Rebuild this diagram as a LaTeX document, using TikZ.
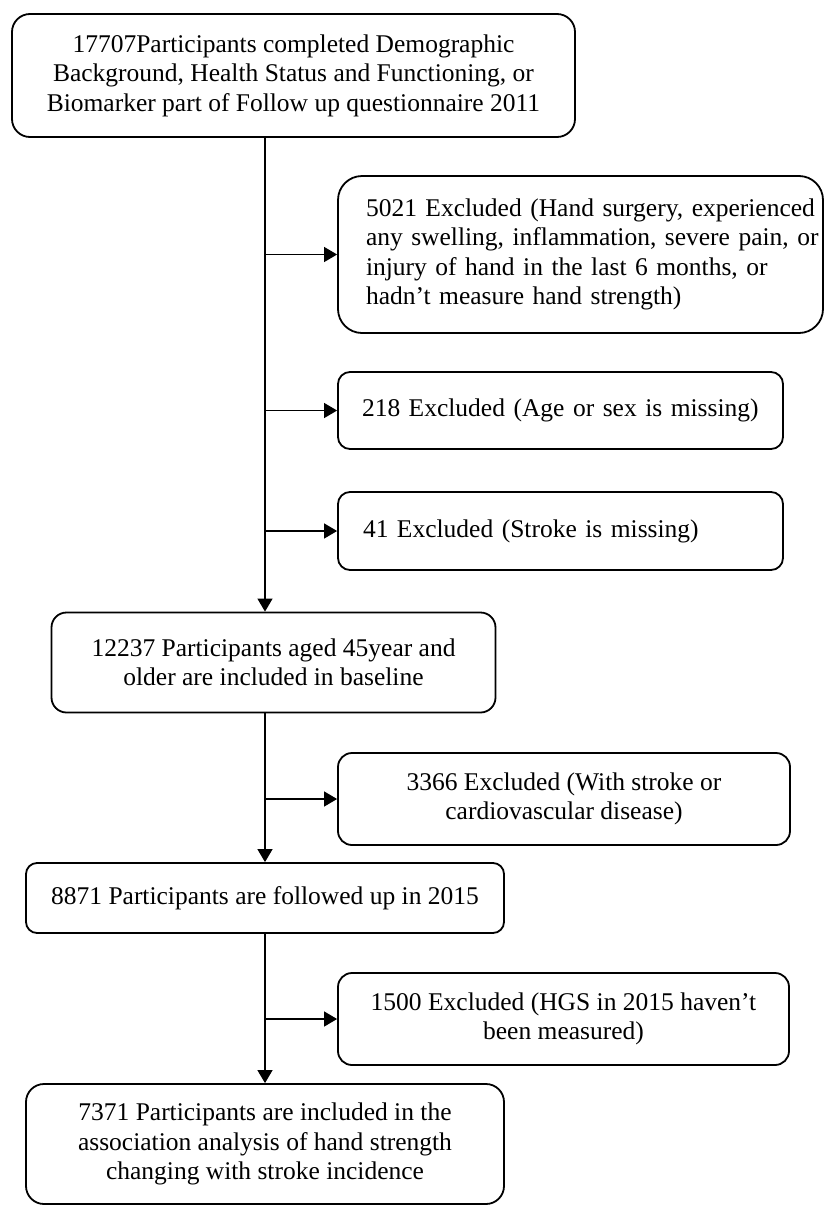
\documentclass[tikz,border=0pt]{standalone}
\usepackage{fontspec}
\setmainfont{Liberation Serif}
\usetikzlibrary{arrows.meta}
\begin{document}
\begin{tikzpicture}[x=1pt,y=-1pt,
  box/.style={draw=black, line width=1.8pt, inner sep=0pt, fill=white,
    font=\fontsize{25.5}{29.5}\selectfont},
  cbox/.style={box, align=center},
  lbox/.style={box, align=left},
  arr/.style={line width=1.2pt, -{Triangle[length=13pt,width=15pt]}},
]
\useasboundingbox[fill=white] (0,0) rectangle (825,1205);
\coordinate (sp) at (265,0);

\node[cbox, minimum width=563pt, minimum height=123pt, rounded corners=18pt] (b1) at (293.5,75.5)
  {17707Participants completed Demographic\\Background, Health Status and Functioning, or\\Biomarker part of Follow up questionnaire 2011};

\node[lbox, minimum width=485pt, minimum height=157pt, inner xsep=28pt, text width=429pt, rounded corners=24pt] (b2) at (580.5,254.5)
  {\mbox{5021 Excluded (Hand surgery, experienced}\\\mbox{any swelling, inflammation, severe pain, or}\\\mbox{injury of hand in the last 6 months, or}\\\mbox{hadn’t measure hand strength)}};

\node[lbox, minimum width=445pt, minimum height=77pt, inner xsep=24pt, text width=397pt, rounded corners=12pt] (b3) at (560.5,410.5)
  {\mbox{218 Excluded (Age or sex is missing)}};

\node[lbox, minimum width=445pt, minimum height=78pt, inner xsep=25pt, text width=395pt, rounded corners=12pt] (b4) at (560.5,531)
  {\mbox{41 Excluded (Stroke is missing)}};

\node[cbox, minimum width=444pt, minimum height=100pt, rounded corners=15pt] (b5) at (273.5,662.5)
  {12237 Participants aged 45year and\\older are included in baseline};

\node[cbox, minimum width=452pt, minimum height=92pt, rounded corners=14pt] (b6) at (564,799)
  {3366 Excluded (With stroke or\\cardiovascular disease)};

\node[cbox, minimum width=478pt, minimum height=70pt, rounded corners=11pt] (b7) at (265,898)
  {8871 Participants are followed up in 2015};

\node[cbox, minimum width=451pt, minimum height=92pt, rounded corners=14pt] (b8) at (563.5,1019)
  {1500 Excluded (HGS in 2015 haven’t\\been measured)};

\node[cbox, minimum width=478pt, minimum height=120pt, rounded corners=18pt] (b9) at (265,1144)
  {7371 Participants are included in the\\association analysis of hand strength\\changing with stroke incidence};

\draw[arr] (b1.south -| sp) -- (b5.north -| sp);
\draw[arr] (b2.west -| sp) -- (b2.west);
\draw[arr] (b3.west -| sp) -- (b3.west);
\draw[arr] (b4.west -| sp) -- (b4.west);
\draw[arr] (b5.south -| sp) -- (b7.north -| sp);
\draw[arr] (b6.west -| sp) -- (b6.west);
\draw[arr] (b7.south -| sp) -- (b9.north -| sp);
\draw[arr] (b8.west -| sp) -- (b8.west);
\end{tikzpicture}
\end{document}
